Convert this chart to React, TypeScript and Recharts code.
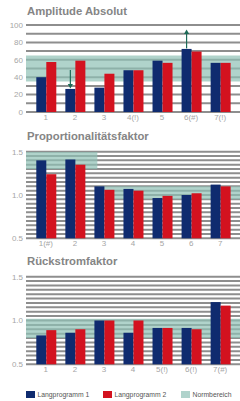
import React from 'react';
import {
  ComposedChart,
  Bar,
  XAxis,
  YAxis,
  CartesianGrid,
  ReferenceArea,
} from 'recharts';

const seriesNames = ['Langprogramm 1', 'Langprogramm 2'];
const normName = 'Normbereich';

// Amplitude Absolut
const ampCategories = ['1', '2', '3', '4(!)', '5', '6(#)', '7(!)'];
const ampLp1 = [40, 26.5, 28, 48, 59, 72.5, 56.5];
const ampLp2 = [57.5, 59, 44, 48, 56.5, 69.5, 56.5];
const ampArrows = ['', 'down', '', '', '', 'up', ''];
const ampNormLow = [35, 35, 35, 35, 35, 35, 35];
const ampNormHigh = [65, 65, 65, 65, 65, 65, 65];
const ampTicks = [0, 10, 20, 30, 40, 50, 60, 70, 80, 90, 100];
const ampLabelled = [0, 20, 40, 60, 80, 100];

// Proportionalitätsfaktor
const propCategories = ['1(#)', '2', '3', '4', '5', '6', '7'];
const propLp1 = [1.4, 1.41, 1.1, 1.07, 0.965, 1.0, 1.12];
const propLp2 = [1.24, 1.35, 1.06, 1.05, 0.99, 1.02, 1.1];
const propNormLow = [1.3, 1.3, 0.95, 0.95, 0.95, 0.95, 0.95];
const propNormHigh = [1.5, 1.5, 1.1, 1.1, 1.1, 1.1, 1.1];

// Rückstromfaktor
const rueckCategories = ['1', '2', '3', '4', '5(!)', '6(!)', '7(#)'];
const rueckLp1 = [0.83, 0.86, 1.0, 0.86, 0.915, 0.915, 1.21];
const rueckLp2 = [0.89, 0.9, 1.0, 1.0, 0.915, 0.9, 1.17];
const rueckNormLow = [0.8, 0.8, 0.8, 0.8, 0.8, 0.8, 0.8];
const rueckNormHigh = [1.02, 1.02, 1.02, 1.02, 1.02, 1.02, 1.02];

const factorTicks = [
  0.5, 0.55, 0.6, 0.65, 0.7, 0.75, 0.8, 0.85, 0.9, 0.95, 1.0,
  1.05, 1.1, 1.15, 1.2, 1.25, 1.3, 1.35, 1.4, 1.45, 1.5,
];
const factorLabelled = [0.5, 1.0, 1.5];

const BLUE = '#0f2b6f';
const RED = '#d3121f';
const NORM = '#8fc0b5';
const GRID = '#8e8e8e';
const ARROW = '#1d6b58';

const PAD_PX = 5.3;
const PAD = 0.182;

const ArrowBar = (props: any) => {
  const { x, y, width, height, fill, payload } = props;
  const cx = x + width / 2;
  let arrow = null;
  if (payload && payload.arrow === 'down') {
    arrow = (
      <g>
        <line x1={cx} y1={y - 19} x2={cx} y2={y - 4} stroke={ARROW} strokeWidth={1.2} />
        <polygon points={`${cx - 2.6},${y - 5} ${cx + 2.6},${y - 5} ${cx},${y - 0.5}`} fill={ARROW} />
      </g>
    );
  } else if (payload && payload.arrow === 'up') {
    arrow = (
      <g>
        <line x1={cx} y1={y - 0.5} x2={cx} y2={y - 15} stroke={ARROW} strokeWidth={1.2} />
        <polygon points={`${cx - 2.6},${y - 15} ${cx + 2.6},${y - 15} ${cx},${y - 19.5}`} fill={ARROW} />
      </g>
    );
  }
  return (
    <g>
      <rect x={x} y={y} width={width} height={height} fill={fill} />
      {arrow}
    </g>
  );
};

// group neighbouring categories that share the same norm range
const normAreas = (low: number[], high: number[]) => {
  const areas: { x1: number; x2: number; y1: number; y2: number }[] = [];
  low.forEach((lo, i) => {
    const last = areas[areas.length - 1];
    if (last && last.y1 === lo && last.y2 === high[i]) {
      last.x2 = i + 1;
    } else {
      areas.push({ x1: i, x2: i + 1, y1: lo, y2: high[i] });
    }
  });
  areas[0].x1 = -PAD;
  areas[areas.length - 1].x2 = low.length + PAD;
  return areas;
};

type PanelProps = {
  title: string;
  top: number;
  height: number;
  plotTop: number;
  categories: string[];
  lp1: number[];
  lp2: number[];
  arrows?: string[];
  normLow: number[];
  normHigh: number[];
  domain: [number, number];
  ticks: number[];
  labelled: number[];
  format: (v: number) => string;
};

const Panel = ({
  title, top, height, plotTop, categories, lp1, lp2, arrows,
  normLow, normHigh, domain, ticks, labelled, format,
}: PanelProps) => {
  const data = categories.map((cat, i) => ({
    cat,
    lp1: lp1[i],
    lp2: lp2[i],
    arrow: arrows ? arrows[i] : '',
  }));
  const areas = normAreas(normLow, normHigh);
  const tickText = (v: number) =>
    labelled.some((l) => Math.abs(l - v) < 1e-6) ? format(v) : '';

  return (
    <div style={{ position: 'absolute', left: 0, top, width: 240, height }}>
      <div
        style={{
          position: 'absolute',
          left: 27,
          top: 5,
          fontFamily: '"Liberation Sans", Arial, sans-serif',
          fontWeight: 'bold',
          fontSize: 11.3,
          color: '#858585',
          whiteSpace: 'nowrap',
        }}
      >
        {title}
      </div>
      <ComposedChart
        width={240}
        height={height}
        data={data}
        barSize={10}
        barGap={0}
        margin={{ top: plotTop, right: 0, bottom: 0, left: 0 }}
      >
        <XAxis
          dataKey="cat"
          interval={0}
          axisLine={false}
          tickLine={false}
          tickSize={0}
          tickMargin={2}
          height={15}
          padding={{ left: PAD_PX, right: PAD_PX }}
          tick={{ fontSize: 8, fill: '#a6a6a6', fontFamily: '"Liberation Sans", Arial, sans-serif' }}
        />
        <XAxis
          xAxisId="band"
          type="number"
          domain={[-PAD, categories.length + PAD]}
          allowDataOverflow
          hide
        />
        <YAxis
          width={26}
          domain={domain}
          ticks={ticks}
          interval={0}
          axisLine={false}
          tickLine={false}
          tickSize={0}
          tickMargin={3}
          tickFormatter={tickText}
          tick={{ fontSize: 8, fill: '#a6a6a6', fontFamily: '"Liberation Sans", Arial, sans-serif' }}
        />
        <CartesianGrid vertical={false} stroke={GRID} strokeWidth={2} />
        {areas.map((a, i) => (
          <ReferenceArea
            key={`norm-${i}`}
            xAxisId="band"
            x1={a.x1}
            x2={a.x2}
            y1={a.y1}
            y2={a.y2}
            fill={NORM}
            fillOpacity={0.7}
            stroke="none"
            ifOverflow="hidden"
          />
        ))}
        <Bar dataKey="lp1" name={seriesNames[0]} fill={BLUE} shape={ArrowBar} isAnimationActive={false} />
        <Bar dataKey="lp2" name={seriesNames[1]} fill={RED} isAnimationActive={false} />
      </ComposedChart>
    </div>
  );
};

const legendItems = [
  { label: seriesNames[0], color: BLUE, left: 26 },
  { label: seriesNames[1], color: RED, left: 103 },
  { label: normName, color: '#b0d3cc', left: 181 },
];

const App = () => (
  <div style={{ position: 'relative', width: 240, height: 401, overflow: 'hidden', background: '#fff' }}>
    <style>{'body{margin:0}'}</style>
    <Panel
      title="Amplitude Absolut"
      top={0}
      height={127}
      plotTop={25}
      categories={ampCategories}
      lp1={ampLp1}
      lp2={ampLp2}
      arrows={ampArrows}
      normLow={ampNormLow}
      normHigh={ampNormHigh}
      domain={[0, 100]}
      ticks={ampTicks}
      labelled={ampLabelled}
      format={(v) => String(v)}
    />
    <Panel
      title="Proportionalitätsfaktor"
      top={125}
      height={128.3}
      plotTop={26.7}
      categories={propCategories}
      lp1={propLp1}
      lp2={propLp2}
      normLow={propNormLow}
      normHigh={propNormHigh}
      domain={[0.5, 1.5]}
      ticks={factorTicks}
      labelled={factorLabelled}
      format={(v) => v.toFixed(1)}
    />
    <Panel
      title="Rückstromfaktor"
      top={250}
      height={129.3}
      plotTop={26.7}
      categories={rueckCategories}
      lp1={rueckLp1}
      lp2={rueckLp2}
      normLow={rueckNormLow}
      normHigh={rueckNormHigh}
      domain={[0.5, 1.5]}
      ticks={factorTicks}
      labelled={factorLabelled}
      format={(v) => v.toFixed(1)}
    />
    {legendItems.map((item) => (
      <div
        key={item.label}
        style={{
          position: 'absolute',
          left: item.left,
          top: 391,
          height: 7,
          display: 'flex',
          alignItems: 'center',
          whiteSpace: 'nowrap',
        }}
      >
        <div style={{ width: 8.5, height: 7, background: item.color, marginRight: 3 }} />
        <span
          style={{
            fontFamily: '"Liberation Sans", Arial, sans-serif',
            fontSize: 6.8,
            color: '#555',
          }}
        >
          {item.label}
        </span>
      </div>
    ))}
  </div>
);

export default App;
